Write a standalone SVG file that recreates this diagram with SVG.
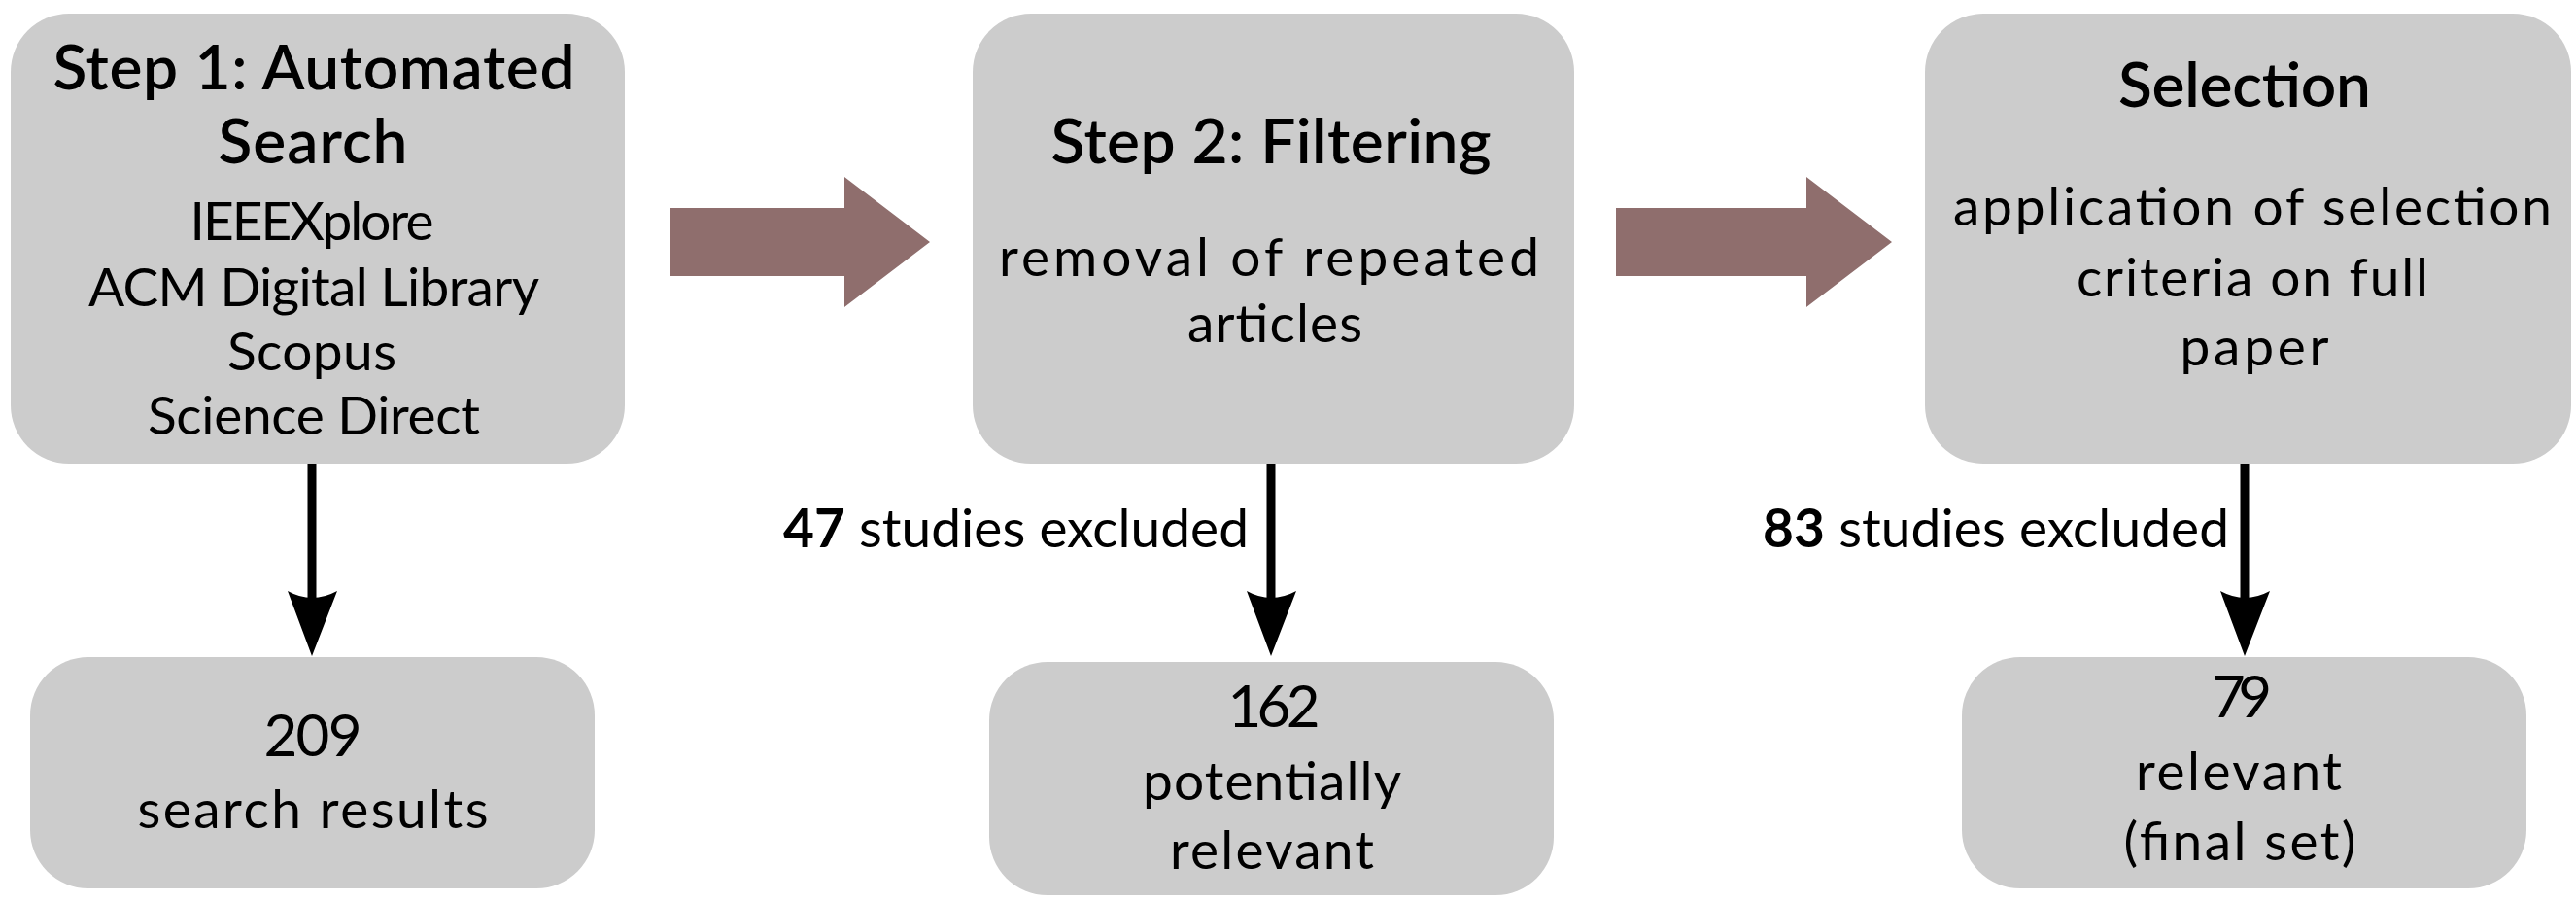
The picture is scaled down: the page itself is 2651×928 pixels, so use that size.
<svg xmlns="http://www.w3.org/2000/svg" width="2651" height="928" viewBox="0 0 2651 928">
<defs>
<style>
.box{fill:#cccccc;}
.t{font-family:Lato,"Noto Sans",sans-serif;fill:#000;text-anchor:middle;}
.title{font-size:64px;font-weight:600;}
.body{font-size:55px;}
.num{font-size:60px;}
.lbl{font-family:Lato,"Noto Sans",sans-serif;font-size:55px;text-anchor:end;}
.big{fill:#8f6e6d;}
.edge{stroke:#000;stroke-width:9;fill:none;}
.head{fill:#000;}
</style>
</defs>
<g id="connectors">
<polygon class="big" points="690,214 869,214 869,182 957,249 869,316 869,284 690,284"/>
<polygon class="big" points="1663,214 1859,214 1859,182 1947,249 1859,316 1859,284 1663,284"/>
<line class="edge" x1="321" y1="477" x2="321" y2="620"/>
<path class="head" d="M296,608 L321,675 L347,608 Q321,622 296,608 Z"/>
<line class="edge" x1="1308" y1="477" x2="1308" y2="620"/>
<path class="head" d="M1283,608 L1308,675 L1334,608 Q1308,622 1283,608 Z"/>
<line class="edge" x1="2310" y1="477" x2="2310" y2="620"/>
<path class="head" d="M2285,608 L2310,675 L2336,608 Q2310,622 2285,608 Z"/>
<text class="lbl" x="1285" y="563" textLength="479"><tspan font-weight="bold">47</tspan> studies excluded</text>
<text class="lbl" x="2294" y="563" textLength="480"><tspan font-weight="bold">83</tspan> studies excluded</text>
</g>
<g id="step1">
<rect class="box" x="11" y="14" width="632" height="463" rx="60"/>
<text class="t title" x="323" y="92" textLength="537">Step 1: Automated</text>
<text class="t title" x="322" y="168" textLength="195">Search</text>
<text class="t body" x="321" y="247" textLength="251">IEEEXplore</text>
<text class="t body" x="323" y="315" textLength="464">ACM Digital Library</text>
<text class="t body" x="321" y="381" textLength="174">Scopus</text>
<text class="t body" x="323" y="447" textLength="342">Science Direct</text>
</g>
<g id="step2">
<rect class="box" x="1001" y="14" width="619" height="463" rx="60"/>
<text class="t title" x="1308" y="168" textLength="453">Step 2: Filtering</text>
<text class="t body" x="1306" y="284" textLength="556">removal of repeated</text>
<text class="t body" x="1312" y="352" textLength="180">articles</text>
</g>
<g id="selection">
<rect class="box" x="1981" y="14" width="665" height="463" rx="60"/>
<text class="t title" x="2310" y="110" textLength="260">Selection</text>
<text class="t body" x="2318" y="232" textLength="616">application of selection</text>
<text class="t body" x="2318" y="305" textLength="362">criteria on full</text>
<text class="t body" x="2320" y="376" textLength="153">paper</text>
</g>
<g id="results">
<rect class="box" x="31" y="676" width="581" height="238" rx="60"/>
<text class="t num" x="322" y="778" textLength="101">209</text>
<text class="t body" x="322" y="852" textLength="361">search results</text>
</g>
<g id="potential">
<rect class="box" x="1018" y="681" width="581" height="240" rx="60"/>
<text class="t num" x="1311" y="748" textLength="95">162</text>
<text class="t body" x="1309" y="823" textLength="266">potentially</text>
<text class="t body" x="1309" y="894" textLength="210">relevant</text>
</g>
<g id="final">
<rect class="box" x="2019" y="676" width="581" height="238" rx="60"/>
<text class="t num" x="2307" y="738" textLength="62">79</text>
<text class="t body" x="2304" y="813" textLength="212">relevant</text>
<text class="t body" x="2305" y="885" textLength="239">(final set)</text>
</g>
</svg>
